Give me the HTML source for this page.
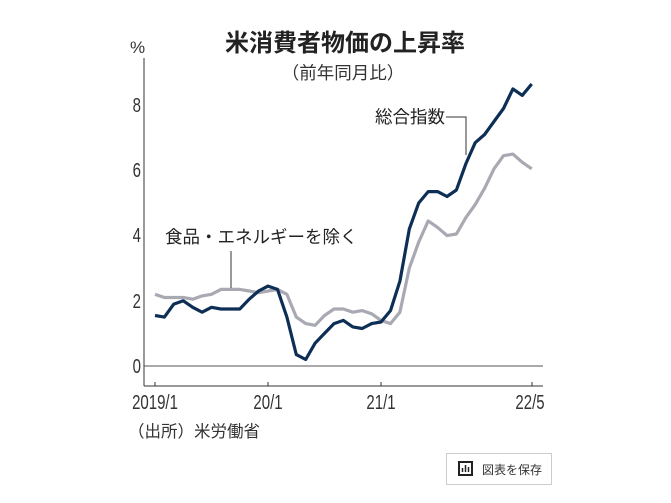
<!DOCTYPE html>
<html><head><meta charset="utf-8"><style>
body{margin:0;background:#fff;width:671px;height:498px;overflow:hidden;font-family:"Liberation Sans","Noto Sans CJK JP",sans-serif;}
</style></head><body>
<svg width="671" height="498" viewBox="0 0 671 498" xmlns="http://www.w3.org/2000/svg" font-family="Liberation Sans, Noto Sans CJK JP, sans-serif">
<text x="345" y="51" font-size="24" font-weight="bold" text-anchor="middle" fill="#222">米消費者物価の上昇率</text>
<text x="343" y="79" font-size="17.5" text-anchor="middle" fill="#333">（前年同月比）</text>
<text x="130" y="53" font-size="17" fill="#333">%</text>
<g font-size="20" fill="#333" text-anchor="end">
<text x="141" y="112" transform="translate(141 0) scale(0.75 1) translate(-141 0)">8</text>
<text x="141" y="177" transform="translate(141 0) scale(0.75 1) translate(-141 0)">6</text>
<text x="141" y="242" transform="translate(141 0) scale(0.75 1) translate(-141 0)">4</text>
<text x="141" y="308" transform="translate(141 0) scale(0.75 1) translate(-141 0)">2</text>
<text x="141" y="373" transform="translate(141 0) scale(0.75 1) translate(-141 0)">0</text>
</g>
<line x1="144" y1="58" x2="144" y2="386" stroke="#333" stroke-width="1"/>
<line x1="144" y1="386" x2="543" y2="386" stroke="#333" stroke-width="1"/>
<line x1="144" y1="366" x2="543" y2="366" stroke="#555" stroke-width="1"/>
<g stroke="#333"><line x1="155" y1="382" x2="155" y2="386"/><line x1="268" y1="382" x2="268" y2="386"/><line x1="381" y1="382" x2="381" y2="386"/><line x1="532" y1="382" x2="532" y2="386"/></g>
<g font-size="20" fill="#333" text-anchor="middle">
<text x="155" y="409" transform="translate(155 0) scale(0.75 1) translate(-155 0)">2019/1</text>
<text x="268" y="409" transform="translate(268 0) scale(0.75 1) translate(-268 0)">20/1</text>
<text x="381" y="409" transform="translate(381 0) scale(0.75 1) translate(-381 0)">21/1</text>
<text x="530" y="409" transform="translate(530 0) scale(0.75 1) translate(-530 0)">22/5</text>
</g>
<polyline fill="none" stroke="#a9a9b3" stroke-width="3.2" stroke-linejoin="round" points="155,294.3 164.4,297.5 173.8,297.5 183.3,297.5 192.7,299.2 202.1,295.9 211.5,294.3 220.9,289.4 230.4,289.4 239.8,289.4 249.2,291 258.6,292.7 268,291 277.5,289.4 286.9,294.3 296.3,317.1 305.7,323.6 315.1,325.3 324.5,315.5 334,309 343.4,309 352.8,312.2 362.2,310.6 371.7,313.8 381,320.4 390.5,323.6 399.9,312.2 409.3,268.2 418.7,242.1 428.2,220.9 437.6,227.4 447,235.6 456.4,234 465.8,217.7 475.2,204.6 484.6,188.3 494,168.8 503.5,155.7 512.9,154.1 522.3,162.3 531.7,168.8"/>
<polyline fill="none" stroke="#0e2f55" stroke-width="3.2" stroke-linejoin="round" points="155,315.5 164.4,317.1 173.8,304.1 183.3,300.8 192.7,307.3 202.1,312.2 211.5,307.3 220.9,309 230.4,309 239.8,309 249.2,299.2 258.6,291 268,286.1 277.5,289.4 286.9,317.1 296.3,354.6 305.7,359.5 315.1,343.2 324.5,333.4 334,323.6 343.4,320.4 352.8,326.9 362.2,328.5 371.7,323.6 381,322 390.5,310.6 399.9,281.2 409.3,229.1 418.7,203 428.2,191.6 437.6,191.6 447,196.5 456.4,190 465.8,163.9 475.2,142.7 484.6,134.5 494,121.5 503.5,108.5 512.9,88.9 522.3,95.4 531.7,84"/>
<text x="165" y="243" font-size="17.5" fill="#222">食品・エネルギーを除く</text>
<line x1="231" y1="251" x2="231" y2="288" stroke="#333" stroke-width="1"/>
<text x="375" y="123" font-size="17.5" fill="#222">総合指数</text>
<polyline points="446,117 466,117 466,155" fill="none" stroke="#333" stroke-width="1"/>
<text x="128" y="437" font-size="16.5" fill="#333">（出所）米労働省</text>
<rect x="446.5" y="453.5" width="105" height="31" fill="#fff" stroke="#ccc"/>
<rect x="459" y="462" width="13" height="13" fill="none" stroke="#222" stroke-width="2"/>
<g stroke="#222" stroke-width="1.5"><line x1="462.5" y1="472" x2="462.5" y2="468"/><line x1="465.5" y1="472" x2="465.5" y2="465"/><line x1="468.5" y1="472" x2="468.5" y2="467"/></g>
<text x="482" y="474" font-size="12" fill="#333">図表を保存</text>
</svg>
</body></html>
